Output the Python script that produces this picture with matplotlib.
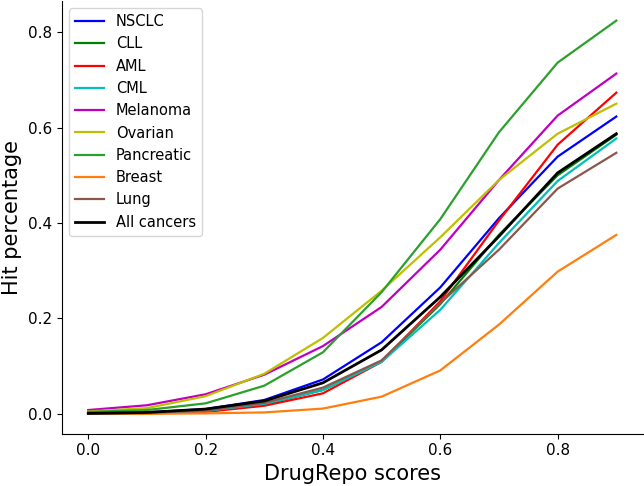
import numpy as np
import matplotlib
matplotlib.use('Agg')
import matplotlib.pyplot as plt

# DrugRepo score thresholds
scores = [0.0, 0.1, 0.2, 0.3, 0.4, 0.5, 0.6, 0.7, 0.8, 0.9]

# hit percentage per cancer type
nsclc      = [0.001, 0.003, 0.010, 0.029, 0.072, 0.150, 0.265, 0.410, 0.539, 0.623]
cll        = [0.000, 0.002, 0.006, 0.020, 0.050, 0.110, 0.230, 0.375, 0.500, 0.585]
aml        = [0.000, 0.001, 0.004, 0.017, 0.043, 0.109, 0.236, 0.405, 0.564, 0.673]
cml        = [0.000, 0.002, 0.006, 0.021, 0.050, 0.109, 0.218, 0.358, 0.488, 0.577]
melanoma   = [0.008, 0.018, 0.041, 0.082, 0.142, 0.224, 0.344, 0.490, 0.625, 0.713]
ovarian    = [0.005, 0.012, 0.037, 0.084, 0.159, 0.258, 0.370, 0.490, 0.587, 0.650]
pancreatic = [0.004, 0.008, 0.022, 0.059, 0.129, 0.255, 0.408, 0.590, 0.736, 0.824]
breast     = [0.000, 0.000, 0.001, 0.003, 0.011, 0.036, 0.091, 0.187, 0.298, 0.375]
lung       = [0.000, 0.002, 0.007, 0.023, 0.055, 0.112, 0.232, 0.344, 0.472, 0.547]
all_cancer = [0.001, 0.003, 0.010, 0.027, 0.065, 0.134, 0.245, 0.372, 0.505, 0.587]

series = [
    ('NSCLC', nsclc, 'b'),
    ('CLL', cll, 'g'),
    ('AML', aml, 'r'),
    ('CML', cml, 'c'),
    ('Melanoma', melanoma, 'm'),
    ('Ovarian', ovarian, 'y'),
    ('Pancreatic', pancreatic, 'tab:green'),
    ('Breast', breast, 'tab:orange'),
    ('Lung', lung, 'tab:brown'),
    ('All cancers', all_cancer, 'k'),
]

fig = plt.figure(figsize=(6.44, 4.86), dpi=100)
ax = fig.add_axes([0.096, 0.108, 0.902, 0.89])

for name, vals, col in series:
    lw = 2.0 if col == 'k' else 1.6
    ax.plot(scores, vals, color=col, label=name, linewidth=lw)

ax.spines['top'].set_visible(False)
ax.spines['right'].set_visible(False)
ax.tick_params(labelsize=11)
ax.set_xticks([0.0, 0.2, 0.4, 0.6, 0.8])
ax.set_yticks([0.0, 0.2, 0.4, 0.6, 0.8])
ax.set_xlabel('DrugRepo scores', fontsize=15)
ax.set_ylabel('Hit percentage', fontsize=15)
ax.legend(loc='upper left', fontsize=10.5)

plt.savefig('out.png', dpi=100)
